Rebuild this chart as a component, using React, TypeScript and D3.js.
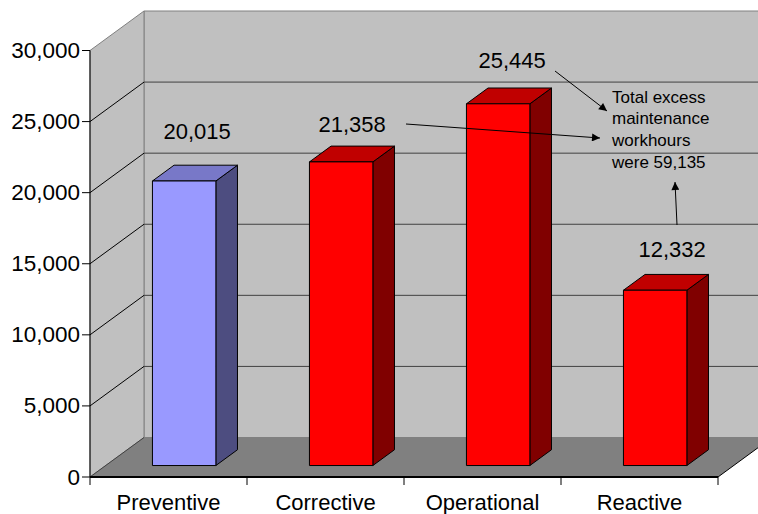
import React from "react";
import * as d3 from "d3";

const categories = ["Preventive", "Corrective", "Operational", "Reactive"];
const values = [20015, 21358, 25445, 12332];
const valueLabels = ["20,015", "21,358", "25,445", "12,332"];
const yTicks = [0, 5000, 10000, 15000, 20000, 25000, 30000];
const noteLines = ["Total excess", "maintenance", "workhours", "were 59,135"];

// label offsets relative to the bar's front top-centre (layout, not data)
const labelDx = [13, 11, 14, 17];
const labelDy = [-42, -30, -36, -33];

const W = 758;
const H = 514;
const FONT = "'Liberation Sans', Arial, Helvetica, sans-serif";

const x0 = 90;
const x1 = 718;
const yBottom = 477;
const yTop = 50.5;
const DX = 54;
const DY = -39.5;
const barFront = 0.29;
const barBack = 0.69;
const barFrac = 0.404;

const fills = [
  { front: "#9999FF", top: "#7878C8", side: "#4D4D80" },
  { front: "#FF0000", top: "#C00000", side: "#800000" },
  { front: "#FF0000", top: "#C00000", side: "#800000" },
  { front: "#FF0000", top: "#C00000", side: "#800000" },
];

export default function App() {
  const y = d3.scaleLinear().domain([0, 30000]).range([yBottom, yTop]);
  const x = d3.scaleBand<string>().domain(categories).range([x0, x1]).padding(0);
  const fmt = d3.format(",");
  const P = (px: number, py: number, d: number): [number, number] => [px + d * DX, py + d * DY];
  const poly = (pts: [number, number][]) => pts.map((p) => p.join(",")).join(" ");

  const yMin = y(0);
  const yMax = y(30000);

  const leftWall = poly([P(x0, yMin, 0), P(x0, yMax, 0), P(x0, yMax, 1), P(x0, yMin, 1)]);
  const backWall = poly([P(x0, yMax, 1), P(x1 + 10, yMax, 1), P(x1 + 10, yMin, 1), P(x0, yMin, 1)]);
  const floor = poly([P(x0, yMin, 0), P(x1, yMin, 0), P(x1, yMin, 1), P(x0, yMin, 1)]);

  const bw = x.bandwidth() * barFrac;

  return (
    <svg
      width={W}
      height={H}
      style={{ position: "absolute", left: 0, top: 0, background: "#fff" }}
      fontFamily={FONT}
    >
      <rect x={0} y={0} width={W} height={H} fill="#fff" />
      {/* walls */}
      <polygon points={backWall} fill="#C0C0C0" stroke="#808080" strokeWidth={1} />
      <polygon points={leftWall} fill="#C0C0C0" stroke="#808080" strokeWidth={1} />
      {/* back gridlines */}
      {yTicks.slice(1, -1).map((t) => {
        const a = P(x0, y(t), 1);
        const b = P(x1 + 10, y(t), 1);
        return <line key={"g" + t} x1={a[0]} y1={a[1]} x2={b[0]} y2={b[1]} stroke="#404040" strokeWidth={1} />;
      })}
      {/* left wall diagonals */}
      {yTicks.slice(1, -1).map((t) => {
        const a = P(x0, y(t), 0);
        const b = P(x0, y(t), 1);
        return <line key={"d" + t} x1={a[0]} y1={a[1]} x2={b[0]} y2={b[1]} stroke="#000" strokeWidth={1} />;
      })}
      {/* floor */}
      <polygon points={floor} fill="#808080" />
      {(() => {
        const a = P(x0, yMin, 0);
        const b = P(x0, yMin, 1);
        const c = P(x1, yMin, 0);
        const e = P(x1, yMin, 1);
        return (
          <g>
            <line x1={a[0]} y1={a[1]} x2={b[0]} y2={b[1]} stroke="#404040" strokeWidth={1} />
            <line x1={c[0]} y1={c[1]} x2={e[0]} y2={e[1]} stroke="#000" strokeWidth={1} />
          </g>
        );
      })()}
      {/* bars */}
      {categories.map((c, i) => {
        const cx = (x(c) as number) + x.bandwidth() / 2;
        const l = cx - bw / 2;
        const r = cx + bw / 2;
        const vt = y(values[i]);
        const f = fills[i];
        const front = poly([P(l, yMin, barFront), P(r, yMin, barFront), P(r, vt, barFront), P(l, vt, barFront)]);
        const top = poly([P(l, vt, barFront), P(r, vt, barFront), P(r, vt, barBack), P(l, vt, barBack)]);
        const side = poly([P(r, yMin, barFront), P(r, yMin, barBack), P(r, vt, barBack), P(r, vt, barFront)]);
        return (
          <g key={c} stroke="#000" strokeWidth={1} strokeLinejoin="round">
            <polygon points={side} fill={f.side} />
            <polygon points={top} fill={f.top} />
            <polygon points={front} fill={f.front} />
          </g>
        );
      })}
      {/* value labels */}
      {categories.map((c, i) => {
        const cx = (x(c) as number) + x.bandwidth() / 2;
        const p = P(cx, y(values[i]), barFront);
        return (
          <text key={"l" + c} x={p[0] + labelDx[i]} y={p[1] + labelDy[i]} fontSize={22} textAnchor="middle" fill="#000">
            {valueLabels[i]}
          </text>
        );
      })}
      {/* axes */}
      <line x1={x0} y1={yMax} x2={x0} y2={yMin + 8} stroke="#000" strokeWidth={1} />
      <line x1={x0} y1={yMin} x2={x1} y2={yMin} stroke="#000" strokeWidth={2} />
      {yTicks.map((t) => (
        <g key={"t" + t}>
          <line x1={x0 - 8} y1={y(t)} x2={x0} y2={y(t)} stroke="#000" strokeWidth={1} />
          <text x={x0 - 10} y={y(t) + 7.5} fontSize={22.5} textAnchor="end" fill="#000">
            {fmt(t)}
          </text>
        </g>
      ))}
      {categories.map((c) => (
        <line key={"ct" + c} x1={(x(c) as number) + x.bandwidth()} y1={yMin} x2={(x(c) as number) + x.bandwidth()} y2={yMin + 8} stroke="#000" strokeWidth={1} />
      ))}
      {categories.map((c) => (
        <text key={"cl" + c} x={(x(c) as number) + x.bandwidth() / 2} y={yMin + 33} fontSize={22} textAnchor="middle" fill="#000">
          {c}
        </text>
      ))}
      {/* annotation */}
      <defs>
        <marker id="ah" viewBox="0 0 10 10" refX={10} refY={5} markerWidth={10} markerHeight={8} markerUnits="userSpaceOnUse" orient="auto">
          <path d="M0,0 L10,5 L0,10 z" fill="#000" />
        </marker>
      </defs>
      <line x1={555} y1={71} x2={607} y2={111} stroke="#000" strokeWidth={1} markerEnd="url(#ah)" />
      <line x1={406} y1={124} x2={600} y2={138} stroke="#000" strokeWidth={1} markerEnd="url(#ah)" />
      <line x1={677} y1={225} x2={675} y2={182} stroke="#000" strokeWidth={1} markerEnd="url(#ah)" />
      {noteLines.map((s, i) => (
        <text key={"n" + i} x={612} y={102.7 + i * 21.7} fontSize={17} fill="#000">
          {s}
        </text>
      ))}
    </svg>
  );
}
